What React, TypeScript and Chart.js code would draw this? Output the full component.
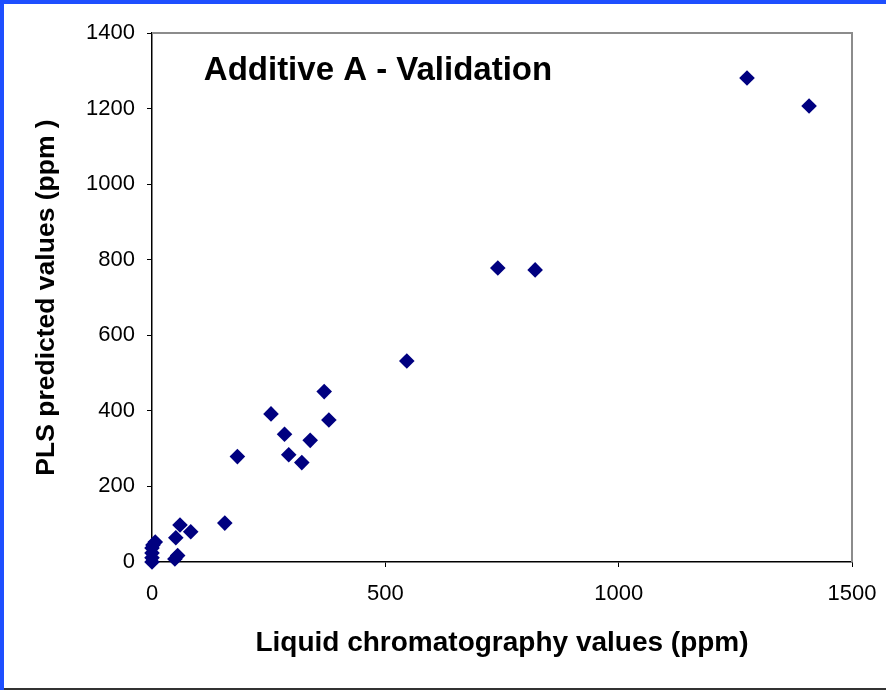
import React, { useEffect, useRef } from "react";
import { Chart, registerables } from "chart.js";

Chart.register(...registerables);

const lcValues = [1275, 1408, 741, 821, 546, 369, 255, 379, 284, 339, 293, 321, 183, 156, 60, 83, 51, 55, 49, 7, 2, 0, 0, 0, 0];
const plsValues = [1281, 1207, 778, 773, 532, 451, 392, 376, 338, 322, 284, 263, 279, 103, 98, 80, 64, 17, 8, 53, 45, 37, 24, 11, 0];
const xTicks = [0, 500, 1000, 1500];
const yTicks = [0, 200, 400, 600, 800, 1000, 1200, 1400];
const chartTitle = "Additive A - Validation";
const xTitle = "Liquid chromatography values (ppm)";
const yTitle = "PLS predicted values (ppm )";

const FONT = "'Liberation Sans', Arial, Helvetica, sans-serif";

const framePlugin = {
  id: "frame",
  beforeDraw(chart: any) {
    const { ctx, width, height } = chart;
    ctx.save();
    ctx.fillStyle = "#ffffff";
    ctx.fillRect(0, 0, width, height);
    ctx.fillStyle = "#1e4fff";
    ctx.fillRect(0, 0, width, 4);
    ctx.fillRect(0, 0, 4, height);
    ctx.fillStyle = "#333333";
    ctx.fillRect(4, height - 2, width - 4, 2);
    ctx.restore();
  },
  afterDraw(chart: any) {
    const { ctx, chartArea } = chart;
    ctx.save();
    ctx.strokeStyle = "#8c8c8c";
    ctx.lineWidth = 2;
    ctx.beginPath();
    ctx.moveTo(chartArea.left, chartArea.top);
    ctx.lineTo(chartArea.right, chartArea.top);
    ctx.lineTo(chartArea.right, chartArea.bottom);
    ctx.stroke();
    ctx.fillStyle = "#000000";
    ctx.font = `bold 33px ${FONT}`;
    ctx.textAlign = "center";
    ctx.textBaseline = "middle";
    ctx.fillText(chartTitle, 378, 71);
    ctx.restore();
  },
};

export default function App() {
  const ref = useRef<HTMLCanvasElement>(null);
  useEffect(() => {
    document.body.style.margin = "0";
    const data = lcValues.map((x, i) => ({ x, y: plsValues[i] }));
    const chart = new Chart(ref.current as HTMLCanvasElement, {
      type: "scatter",
      data: {
        datasets: [
          {
            data,
            pointStyle: "rectRot",
            pointRadius: 7.8,
            pointHoverRadius: 7.8,
            backgroundColor: "#000080",
            borderColor: "#000080",
            borderWidth: 0,
            clip: false,
          } as any,
        ],
      },
      options: {
        animation: false,
        responsive: false,
        events: [],
        layout: { padding: { top: 33, right: 34, left: 0, bottom: 0 } },
        plugins: { legend: { display: false }, tooltip: { enabled: false } },
        scales: {
          x: {
            type: "linear",
            min: 0,
            max: 1500,
            afterFit(scale: any) {
              scale.height = 128;
              scale.paddingLeft = 0;
              scale.paddingRight = 0;
            },
            afterBuildTicks(scale: any) {
              scale.ticks = xTicks.map((v) => ({ value: v }));
            },
            grid: { drawOnChartArea: false, drawTicks: true, tickLength: 5, color: "#000000", tickColor: "#000000" },
            border: { display: true, color: "#000000", width: 1.5 },
            ticks: {
              color: "#000000",
              padding: 14,
              maxRotation: 0,
              font: { family: FONT, size: 22 },
              callback: (v: any) => String(v),
            },
            title: {
              display: true,
              text: xTitle,
              color: "#000000",
              font: { family: FONT, size: 28, weight: "bold" },
              padding: { top: 0, bottom: 30 },
            },
          },
          y: {
            type: "linear",
            min: 0,
            max: 1400,
            afterFit(scale: any) {
              scale.width = 152;
              scale.paddingTop = 0;
              scale.paddingBottom = 0;
            },
            afterBuildTicks(scale: any) {
              scale.ticks = yTicks.map((v) => ({ value: v }));
            },
            grid: { drawOnChartArea: false, drawTicks: true, tickLength: 5, color: "#000000", tickColor: "#000000" },
            border: { display: true, color: "#000000", width: 1.5 },
            ticks: {
              color: "#000000",
              padding: 12,
              font: { family: FONT, size: 22 },
              callback: (v: any) => String(v),
            },
            title: {
              display: true,
              text: yTitle,
              color: "#000000",
              font: { family: FONT, size: 26.5, weight: "bold" },
              padding: { top: 31, bottom: 0 },
            },
          },
        },
      },
      plugins: [framePlugin],
    } as any);
    return () => chart.destroy();
  }, []);
  return (
    <div style={{ width: 886, height: 690, position: "relative" }}>
      <canvas ref={ref} width={886} height={690} style={{ display: "block" }} />
    </div>
  );
}
